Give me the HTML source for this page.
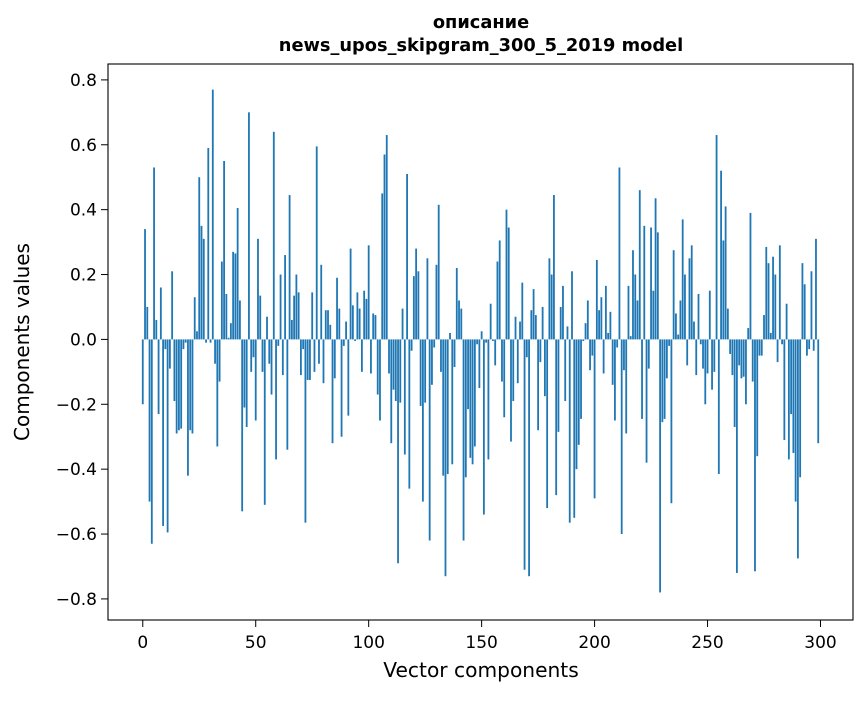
<!DOCTYPE html>
<html><head><meta charset="utf-8"><style>
body{margin:0;background:#fff;}
svg text{font-family:"DejaVu Sans","Liberation Sans",sans-serif;fill:#000;}
</style></head><body>
<svg id="chart" width="867" height="696" xmlns="http://www.w3.org/2000/svg">
<rect width="867" height="696" fill="#fff"/>
<text x="481" y="28" text-anchor="middle" font-size="17.8" font-weight="bold">описание</text>
<text x="481" y="51" text-anchor="middle" font-size="17.8" font-weight="bold">news_upos_skipgram_300_5_2019 model</text>
<g id="bars"></g>
<g id="axes"></g>
<text x="481" y="677" text-anchor="middle" font-size="20.2">Vector components</text>
<text transform="translate(29,342) rotate(-90)" text-anchor="middle" font-size="20">Components values</text>
</svg>
<script>
const values = [
-0.20,0.34,0.10,-0.50,-0.63,0.53,0.06,-0.23,0.16,-0.575,
-0.03,-0.595,-0.09,0.21,-0.19,-0.29,-0.28,-0.275,-0.03,-0.01,
-0.42,-0.28,-0.29,0.13,0.025,0.50,0.35,0.31,-0.01,0.59,
-0.01,0.77,-0.075,-0.33,-0.13,0.24,0.55,0.14,0.005,0.05,
0.27,0.265,0.405,0.12,-0.53,-0.21,-0.27,0.70,-0.10,-0.055,
-0.25,0.31,0.135,-0.10,-0.51,0.07,-0.075,-0.17,0.64,-0.37,
-0.02,0.20,-0.11,0.26,-0.34,0.445,0.06,0.135,0.20,0.145,
-0.11,-0.03,-0.565,-0.125,-0.125,0.145,-0.10,0.595,-0.075,0.23,
-0.135,0.09,0.09,0.045,-0.32,-0.12,0.19,0.095,-0.30,-0.02,
0.055,-0.235,0.28,0.105,-0.005,0.145,0.095,-0.10,0.15,0.125,
0.29,-0.105,0.08,0.075,-0.17,-0.25,0.45,0.57,0.63,-0.105,
-0.32,-0.155,-0.19,-0.69,-0.195,0.095,-0.355,0.51,-0.46,-0.035,
0.195,0.28,0.21,-0.205,-0.50,-0.195,0.25,-0.62,-0.14,-0.025,
0.23,0.415,-0.10,-0.42,-0.73,-0.415,0.02,-0.385,-0.085,0.22,
0.12,0.095,-0.62,-0.425,-0.215,-0.365,-0.385,-0.33,-0.015,-0.15,
0.025,-0.54,-0.01,-0.37,0.11,-0.005,-0.08,0.24,0.305,-0.13,
-0.24,0.40,0.345,-0.315,-0.19,0.07,-0.135,0.055,0.175,-0.71,
-0.055,-0.73,0.09,0.155,0.075,-0.28,-0.07,0.10,-0.175,-0.52,
0.25,0.20,0.445,-0.48,-0.285,0.10,0.165,-0.19,0.04,-0.565,
0.21,-0.55,-0.40,-0.325,-0.245,-0.005,0.05,0.12,-0.095,-0.05,
-0.49,0.245,0.09,0.13,-0.105,0.165,0.02,0.085,-0.14,-0.25,
-0.025,0.53,-0.60,-0.095,-0.29,0.165,0.01,0.275,0.20,0.12,
0.46,-0.245,0.35,-0.38,-0.09,0.345,0.15,0.435,0.33,-0.78,
-0.255,-0.245,-0.12,-0.02,-0.505,0.275,0.08,0.015,0.12,0.37,
0.20,-0.08,0.25,0.29,0.055,-0.11,0.14,-0.015,-0.09,-0.20,
-0.105,0.15,-0.155,-0.10,0.63,-0.415,0.52,0.305,0.41,0.095,
-0.045,-0.11,-0.27,-0.72,-0.08,-0.12,-0.115,-0.20,0.035,0.39,
-0.13,-0.715,-0.36,-0.05,-0.05,0.075,0.285,0.235,0.02,0.255,
0.20,-0.07,0.29,-0.015,-0.31,0.11,-0.37,-0.23,-0.35,-0.50,
-0.675,-0.425,0.235,0.17,-0.05,-0.03,0.21,-0.035,0.31,-0.32
];
const xTicks = [0,50,100,150,200,250,300];
const yTicks = [-0.8,-0.6,-0.4,-0.2,0.0,0.2,0.4,0.6,0.8];
const yTickLabels = ["\u22120.8","\u22120.6","\u22120.4","\u22120.2","0.0","0.2","0.4","0.6","0.8"];

const L=108,R=853,T=64,B=620;
const xmin=-15.39,xmax=314.39,ymin=-0.865,ymax=0.849;
const xs=v=>L+(v-xmin)/(xmax-xmin)*(R-L);
const ys=v=>T+(ymax-v)/(ymax-ymin)*(B-T);
const NS="http://www.w3.org/2000/svg";
const bars=document.getElementById('bars');
values.forEach((v,i)=>{
  const r=document.createElementNS(NS,'rect');
  const x0=xs(i-0.4),x1=xs(i+0.4);
  const y0=ys(Math.max(v,0)),y1=ys(Math.min(v,0));
  r.setAttribute('x',x0);r.setAttribute('width',x1-x0);
  r.setAttribute('y',y0);r.setAttribute('height',Math.max(y1-y0,0.1));
  r.setAttribute('fill','#1f77b4');
  
  
  bars.appendChild(r);
});
const ax=document.getElementById('axes');
const fr=document.createElementNS(NS,'rect');
fr.setAttribute('x',L);fr.setAttribute('y',T);fr.setAttribute('width',R-L);fr.setAttribute('height',B-T);
fr.setAttribute('fill','none');fr.setAttribute('stroke','#000');fr.setAttribute('stroke-width','1.1');


ax.appendChild(fr);
xTicks.forEach(t=>{
  const x=xs(t);
  const l=document.createElementNS(NS,'line');
  l.setAttribute('x1',x);l.setAttribute('x2',x);l.setAttribute('y1',B);l.setAttribute('y2',B+7);l.setAttribute('stroke','#000');
  
  
  ax.appendChild(l);
  const tx=document.createElementNS(NS,'text');
  tx.setAttribute('x',x);tx.setAttribute('y',B+28);tx.setAttribute('text-anchor','middle');tx.setAttribute('font-size','17');
  tx.textContent=t;
  
  
  ax.appendChild(tx);
});
yTicks.forEach((t,i)=>{
  const y=ys(t);
  const l=document.createElementNS(NS,'line');
  l.setAttribute('x1',L-7);l.setAttribute('x2',L);l.setAttribute('y1',y);l.setAttribute('y2',y);l.setAttribute('stroke','#000');
  
  
  ax.appendChild(l);
  const tx=document.createElementNS(NS,'text');
  tx.setAttribute('x',L-11);tx.setAttribute('y',y+6);tx.setAttribute('text-anchor','end');tx.setAttribute('font-size','17');
  tx.textContent=yTickLabels[i];
  
  
  ax.appendChild(tx);
});
</script>
</body></html>
